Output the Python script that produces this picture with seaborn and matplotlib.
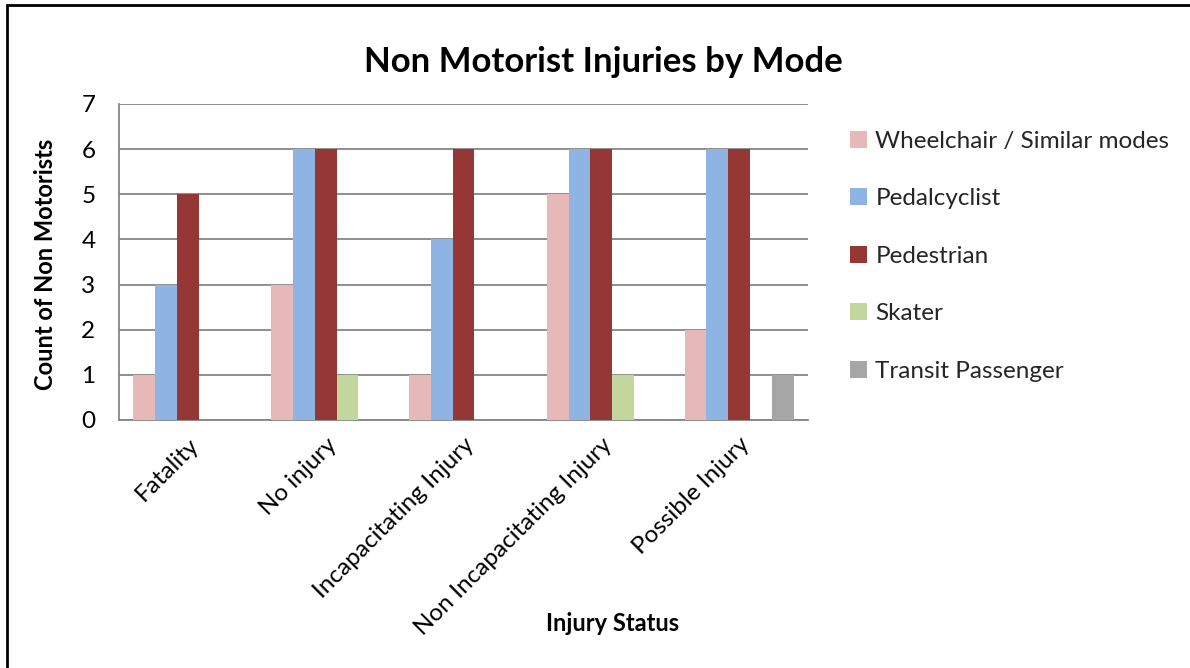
import pandas as pd
import matplotlib
matplotlib.use('Agg')
import matplotlib.pyplot as plt
import seaborn as sns
from matplotlib.patches import Rectangle, Patch
from matplotlib.ticker import FixedLocator

# Données
statuses = ['Fatality', 'No injury', 'Incapacitating Injury',
            'Non Incapacitating Injury', 'Possible Injury']
modes = ['Wheelchair / Similar modes', 'Pedalcyclist', 'Pedestrian',
         'Skater', 'Transit Passenger']
wheelchair = [1, 3, 1, 5, 2]
pedalcyclist = [3, 6, 4, 6, 6]
pedestrian = [5, 6, 6, 6, 6]
skater = [0, 1, 0, 1, 0]
transit = [0, 0, 0, 0, 1]
colors = ['#E6B9B8', '#8EB4E3', '#953735', '#C3D69B', '#A6A6A6']

rows = []
for mode, vals in zip(modes, [wheelchair, pedalcyclist, pedestrian, skater, transit]):
    for s, v in zip(statuses, vals):
        rows.append({'status': s, 'mode': mode, 'count': v})
df = pd.DataFrame(rows)

sns.set_style('white')
plt.rcParams['font.family'] = ['Lato', 'DejaVu Sans']

fig = plt.figure(figsize=(11.9, 6.68), dpi=100)
W, H = 1190, 668
ax = fig.add_axes([119 / W, 1 - 420 / H, (808 - 119) / W, (420 - 104) / H])

sns.barplot(data=df, x='status', y='count', hue='mode', order=statuses,
            hue_order=modes, palette=colors, width=0.79, linewidth=0,
            saturation=1, ax=ax, legend=False, zorder=3)

grid_c = '#868686'
ax.set_ylim(0, 7)
ax.set_xlim(-0.5, 4.5)
ax.set_yticks(range(8))
ax.yaxis.grid(True, color=grid_c, linewidth=1.3, zorder=0)
ax.set_axisbelow(True)
for side in ['top', 'right']:
    ax.spines[side].set_visible(False)
for side in ['left', 'bottom']:
    ax.spines[side].set_color(grid_c)
    ax.spines[side].set_linewidth(1.3)
ax.tick_params(axis='y', length=7, width=1.3, color=grid_c, labelsize=17.5,
               labelcolor='black', pad=10)
ax.tick_params(axis='x', which='major', length=0, labelsize=17.5,
               labelcolor='black', pad=10)
ax.xaxis.set_minor_locator(FixedLocator([i - 0.5 for i in range(6)]))
ax.tick_params(axis='x', which='minor', length=7, width=1.3, color=grid_c)
for lab in ax.get_xticklabels():
    lab.set_rotation(45)
    lab.set_ha('right')
    lab.set_rotation_mode('anchor')

ax.set_xlabel('Injury Status', fontsize=17, fontweight='bold', color='black')
ax.set_ylabel('Count of Non Motorists', fontsize=17, fontweight='bold', color='black')
ax.xaxis.set_label_coords((613 - 119) / (808 - 119), -(612 - 420) / (420 - 104))
ax.yaxis.set_label_coords(-(119 - 57) / (808 - 119), (420 - 264) / (420 - 104))

fig.text(603 / W, 1 - 62 / H, 'Non Motorist Injuries by Mode', fontsize=25,
         fontweight='bold', ha='center', va='center', color='black')

handles = [Patch(facecolor=c, edgecolor='none') for c in colors]
fig.legend(handles, modes, loc='upper left', bbox_to_anchor=(828 / W, 1 - 109 / H),
           frameon=False, fontsize=17.5, handlelength=0.7, handleheight=0.7,
           handletextpad=0.35, labelspacing=1.5)

# Cadre extérieur (coupé à droite et en bas)
fig.patches.append(Rectangle((7 / W, -0.05), 1.1, 1 - 5 / H + 0.05,
                             transform=fig.transFigure, fill=False,
                             edgecolor='black', linewidth=2))

fig.savefig('out.png', dpi=100)
